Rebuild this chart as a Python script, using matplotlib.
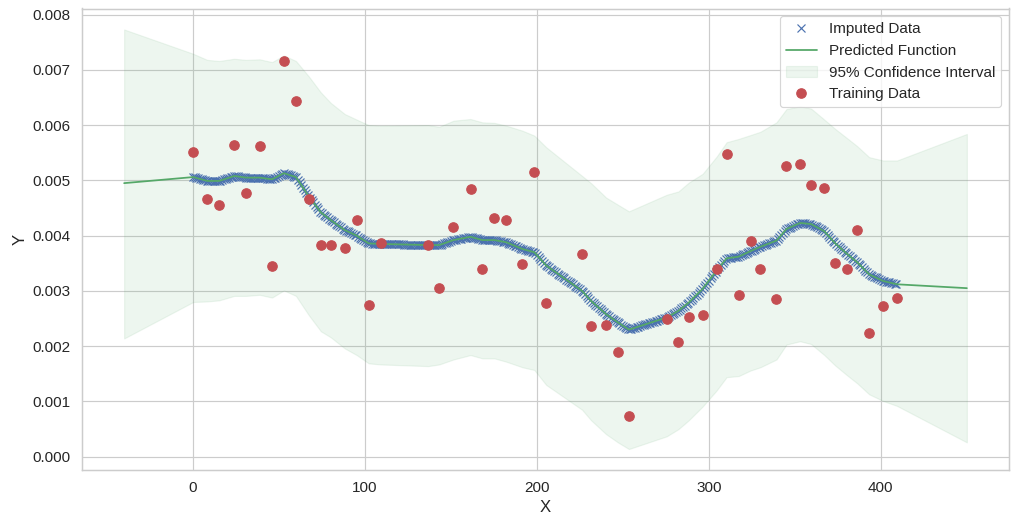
import numpy as np
import matplotlib
matplotlib.use("Agg")
import matplotlib.pyplot as plt
import seaborn as sns

sns.set_theme(style="whitegrid", color_codes=True, font_scale=1.18)
plt.rcParams['font.family'] = ['Liberation Sans', 'DejaVu Sans']

# Training data (x, y) -- y in units of 1e-3
train_x = [0.2, 8.3, 15.3, 24.0, 30.9, 38.8, 46.0, 52.9, 59.9, 67.4, 74.4, 80.2,
           88.3, 95.2, 102.2, 109.2, 136.8, 143.2, 151.5, 161.4, 168.3, 175.3,
           182.2, 191.5, 198.5, 205.4, 226.3, 231.5, 240.2, 247.1, 253.5, 275.5,
           282.3, 288.3, 296.4, 304.5, 310.3, 317.3, 324.2, 330.0, 339.3, 345.1,
           353.0, 359.4, 367.1, 373.5, 380.5, 386.2, 393.2, 401.3, 409.4]
train_y = [5.51, 4.67, 4.56, 5.64, 4.77, 5.62, 3.46, 7.16, 6.43, 4.66, 3.84, 3.83,
           3.78, 4.28, 2.75, 3.86, 3.84, 3.06, 4.15, 4.85, 3.39, 4.32,
           4.28, 3.48, 5.16, 2.78, 3.66, 2.36, 2.39, 1.90, 0.74, 2.49,
           2.08, 2.52, 2.57, 3.40, 5.47, 2.93, 3.91, 3.39, 2.85, 5.26,
           5.29, 4.91, 4.87, 3.50, 3.40, 4.11, 2.23, 2.72, 2.88]

# Predicted function and 95% confidence interval (y in units of 1e-3)
pred_x = [-40] + train_x + [450]
pred_mean = [4.95, 5.06, 4.99, 4.99, 5.08, 5.05, 5.05, 5.02, 5.13, 5.06, 4.71, 4.42, 4.28,
             4.10, 4.00, 3.86, 3.85, 3.83, 3.83, 3.92, 3.98, 3.92, 3.92,
             3.88, 3.76, 3.70, 3.46, 3.00, 2.82, 2.58, 2.43, 2.30, 2.52,
             2.64, 2.79, 3.04, 3.37, 3.59, 3.62, 3.72, 3.80, 3.91, 4.12,
             4.23, 4.21, 4.08, 3.86, 3.665, 3.52, 3.30, 3.18, 3.12, 3.05]
pred_upper = [7.73, 7.29, 7.18, 7.16, 7.20, 7.18, 7.19, 7.14, 7.26, 7.16, 6.88, 6.59, 6.40,
              6.20, 6.10, 6.00, 5.99, 6.00, 5.97, 6.08, 6.11, 6.05, 6.04,
              5.99, 5.90, 5.81, 5.60, 5.08, 4.95, 4.69, 4.56, 4.44, 4.74,
              4.80, 4.96, 5.12, 5.43, 5.69, 5.75, 5.82, 5.88, 6.05, 6.29,
              6.34, 6.30, 6.10, 5.93, 5.76, 5.62, 5.42, 5.36, 5.36, 5.84]
pred_lower = [2.14, 2.80, 2.81, 2.83, 2.91, 2.91, 2.93, 2.88, 3.01, 2.91, 2.56, 2.27, 2.16,
              1.96, 1.84, 1.69, 1.67, 1.64, 1.67, 1.76, 1.84, 1.78, 1.78,
              1.72, 1.62, 1.57, 1.30, 0.85, 0.66, 0.41, 0.26, 0.14, 0.37,
              0.50, 0.66, 0.91, 1.20, 1.44, 1.46, 1.56, 1.62, 1.76, 2.03,
              2.09, 2.04, 1.84, 1.65, 1.47, 1.33, 1.13, 1.01, 0.92, 0.26]

# Imputed points: evaluated on the predicted function at integer X
imputed_x = np.arange(0, 410)

scale = 1e-3
tx = np.array(train_x)
ty = np.array(train_y) * scale
px = np.array(pred_x, dtype=float)
pm = np.array(pred_mean) * scale
pu = np.array(pred_upper) * scale
pl = np.array(pred_lower) * scale
iy = np.interp(imputed_x, px, pm)

fig = plt.figure(figsize=(1022 / 85, 529 / 85), dpi=85)
ax = fig.add_axes([82 / 1022, 1 - 470 / 529, (1009 - 82) / 1022, (470 - 8.5) / 529])

ax.plot(imputed_x, iy, 'bx', label='Imputed Data')
ax.plot(px, pm, 'g-', label='Predicted Function')
ax.fill_between(px, pl, pu, color='g', alpha=0.1, label='95% Confidence Interval')
ax.plot(tx, ty, 'ro', markersize=8, label='Training Data')

ax.set_xlabel('X')
ax.set_ylabel('Y')
ax.legend(loc='upper right')

fig.savefig('out.png', dpi=85)
